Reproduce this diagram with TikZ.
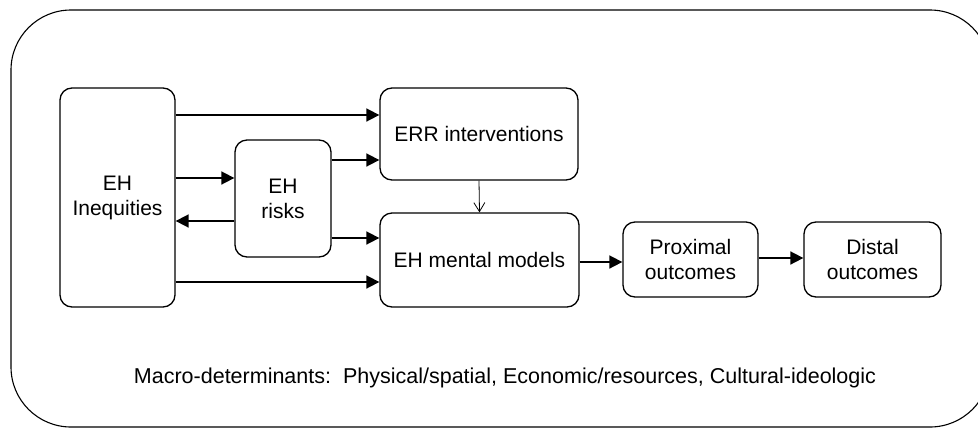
\documentclass[tikz,border=0pt]{standalone}
\usepackage{fontspec}
\setmainfont{Liberation Sans}
\usetikzlibrary{arrows.meta}
\begin{document}
\begin{tikzpicture}[x=1pt,y=-1pt,
  box/.style={draw, line width=1.3pt, rounded corners=12pt, inner sep=0pt, align=center,
    font=\fontsize{21}{25}\selectfont},
  arr/.style={line width=1.7pt, -{Triangle[length=13pt,width=13pt]}},
  thinarr/.style={line width=0.8pt, -{Straight Barb[length=9pt,width=11pt]}}]
\useasboundingbox (0,0) rectangle (978,429);
\node[draw, line width=1.1pt, rounded corners=60pt, minimum width=979pt, minimum height=417pt] (frame) at (500.5,218.5) {};
\node[box, minimum width=115pt, minimum height=219pt] (ineq) at (117.5,197.5) {EH\\Inequities};
\node[box, minimum width=96pt, minimum height=117pt] (risks) at (283,198.5) {EH\\risks};
\node[box, minimum width=198pt, minimum height=92pt] (err) at (479,134) {ERR interventions};
\node[box, minimum width=199pt, minimum height=94pt] (mental) at (479.5,260) {EH mental models};
\node[box, minimum width=135pt, minimum height=75pt] (prox) at (690.5,259.5) {Proximal\\outcomes};
\node[box, minimum width=137pt, minimum height=75pt] (distal) at (872.5,259.5) {Distal\\outcomes};
\node[font=\fontsize{21.5}{25}\selectfont] (macro) at (505,378) {Macro-determinants:\ \ Physical/spatial, Economic/resources, Cultural-ideologic};
\coordinate (r1) at (0,115);
\coordinate (r2) at (0,160);
\coordinate (r3) at (0,178);
\coordinate (r4) at (0,221);
\coordinate (r5) at (0,238);
\coordinate (r6) at (0,282);
\coordinate (r7) at (0,262);
\coordinate (r8) at (0,258);
\draw[arr] (ineq.east |- r1) -- (err.west |- r1);
\draw[arr] (risks.east |- r2) -- (err.west |- r2);
\draw[arr] (ineq.east |- r3) -- (risks.west |- r3);
\draw[arr] (risks.west |- r4) -- (ineq.east |- r4);
\draw[arr] (risks.east |- r5) -- (mental.west |- r5);
\draw[arr] (ineq.east |- r6) -- (mental.west |- r6);
\draw[arr] (mental.east |- r7) -- (prox.west |- r7);
\draw[arr] (prox.east |- r8) -- (distal.west |- r8);
\draw[thinarr] (err.south) -- (mental.north);
\end{tikzpicture}
\end{document}
